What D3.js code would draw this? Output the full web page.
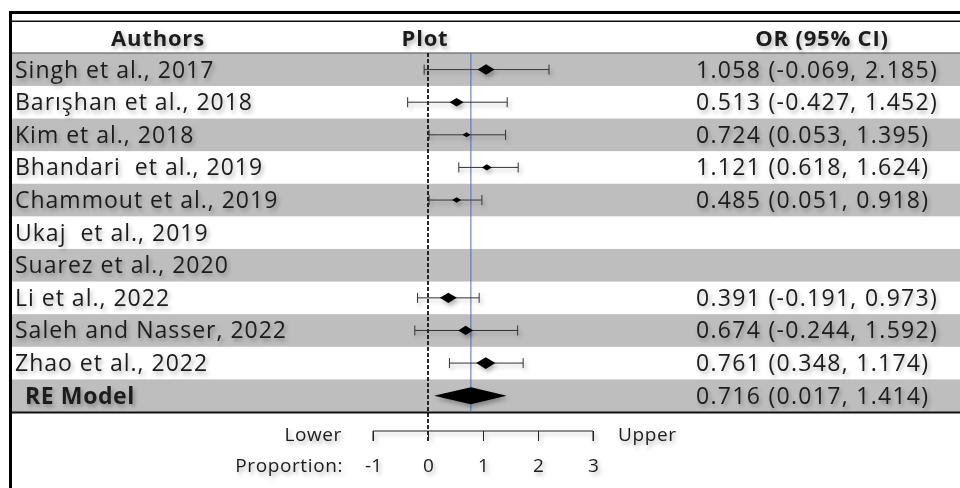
<!DOCTYPE html>
<html lang="en">
<head>
    <meta charset="UTF-8">
    <title>Forest Plot - OR (95% CI)</title>
    <script src="https://cdnjs.cloudflare.com/ajax/libs/d3/7.8.5/d3.min.js"></script>
    <style>
        body { margin: 0; background: #fff; }
        svg { display: block; }
        text { font-family: "Open Sans", Lato, sans-serif; fill: #1c1c1c; white-space: pre; }
    </style>
</head>
<body>
    <svg id="chart" width="960" height="488"></svg>
    <script>
        // study rows (last one is the pooled model)
        const authors = ["Singh et al., 2017", "Barışhan et al., 2018", "Kim et al., 2018",
            "Bhandari  et al., 2019", "Chammout et al., 2019", "Ukaj  et al., 2019",
            "Suarez et al., 2020", "Li et al., 2022", "Saleh and Nasser, 2022",
            "Zhao et al., 2022", "RE Model"];
        const orLabels = ["1.058 (-0.069, 2.185)", "0.513 (-0.427, 1.452)", "0.724 (0.053, 1.395)",
            "1.121 (0.618, 1.624)", "0.485 (0.051, 0.918)", "", "",
            "0.391 (-0.191, 0.973)", "0.674 (-0.244, 1.592)", "0.761 (0.348, 1.174)",
            "0.716 (0.017, 1.414)"];
        // plotted estimates / limits as drawn in the figure (null = no marker)
        const estimates = [1.055, 0.52, 0.70, 1.07, 0.52, null, null, 0.37, 0.685, 1.05, 0.78];
        const lower     = [-0.07, -0.37, 0.02, 0.56, 0.02, null, null, -0.19, -0.24, 0.39, 0.11];
        const upper     = [2.20, 1.44, 1.41, 1.64, 0.98, null, null, 0.93, 1.63, 1.73, 1.43];
        const weights   = [12.1, 10.0, 5.7, 7.1, 6.4, null, null, 12.1, 10.7, 13.6, null];
        const axisTicks = [-1, 0, 1, 2, 3];

        const svg = d3.select("#chart");
        const W = 960;

        const defs = svg.append("defs");
        const f = defs.append("filter").attr("id", "shadow")
            .attr("x", "-20%").attr("y", "-40%").attr("width", "140%").attr("height", "180%");
        f.append("feDropShadow").attr("dx", 2).attr("dy", 3).attr("stdDeviation", 2)
            .attr("flood-color", "#000").attr("flood-opacity", 0.3);

        const x = d3.scaleLinear().domain([-1, 3]).range([373, 593]);
        const y = d3.scaleBand().domain(d3.range(authors.length)).range([53.3, 412]).padding(0);
        const hw = d3.scaleLinear().domain([0, 13.6]).range([0, 9.5]);

        // row bands
        svg.selectAll("rect.band")
            .data(d3.range(authors.length).filter(i => i % 2 === 0))
            .enter().append("rect")
            .attr("class", "band")
            .attr("x", 12).attr("y", i => y(i))
            .attr("width", W - 12).attr("height", y.bandwidth())
            .attr("fill", "#bebebe");

        // frame lines
        svg.append("rect").attr("x", 9).attr("y", 11).attr("width", W - 9).attr("height", 3).attr("fill", "#000");
        svg.append("rect").attr("x", 12).attr("y", 20.5).attr("width", W - 12).attr("height", 1.5).attr("fill", "#111");
        svg.append("rect").attr("x", 9).attr("y", 11).attr("width", 3).attr("height", 477).attr("fill", "#000");
        svg.append("line").attr("x1", 12).attr("x2", W).attr("y1", 53).attr("y2", 53)
            .attr("stroke", "#444").attr("stroke-width", 1.2);
        svg.append("line").attr("x1", 12).attr("x2", W).attr("y1", 412.5).attr("y2", 412.5)
            .attr("stroke", "#111").attr("stroke-width", 2);

        // header
        const header = svg.append("g").attr("filter", "url(#shadow)");
        [["Authors", 158], ["Plot", 425], ["OR (95% CI)", 822]].forEach(h => {
            header.append("text").attr("x", h[1]).attr("y", 46)
                .attr("text-anchor", "middle").attr("font-size", 22).attr("font-weight", "bold")
                .attr("letter-spacing", 0.8)
                .text(h[0]);
        });

        // reference lines
        svg.append("line")
            .attr("x1", x(0)).attr("x2", x(0)).attr("y1", 53).attr("y2", 442)
            .attr("stroke", "#111").attr("stroke-width", 1.8).attr("stroke-dasharray", "4,2");
        const pooled = authors.length - 1;
        svg.append("line")
            .attr("x1", x(estimates[pooled])).attr("x2", x(estimates[pooled]))
            .attr("y1", 53).attr("y2", 412)
            .attr("stroke", "#4472c4").attr("stroke-width", 1);

        const g = svg.append("g").attr("filter", "url(#shadow)");

        // labels
        g.selectAll("text.author")
            .data(authors)
            .enter().append("text")
            .attr("class", "author")
            .attr("x", (d, i) => i === pooled ? 25 : 15)
            .attr("y", (d, i) => y(i) + y.bandwidth() / 2 + 8)
            .attr("font-size", 23)
            .attr("letter-spacing", (d, i) => i === pooled ? 0.6 : 1.0)
            .attr("font-weight", (d, i) => i === pooled ? "bold" : "normal")
            .text(d => d);

        g.selectAll("text.or")
            .data(orLabels)
            .enter().append("text")
            .attr("class", "or")
            .attr("x", 696)
            .attr("y", (d, i) => y(i) + y.bandwidth() / 2 + 8)
            .attr("font-size", 23)
            .attr("letter-spacing", 1.3)
            .text(d => d);

        // study CIs
        const studies = d3.range(pooled).filter(i => estimates[i] !== null);
        const rows = g.selectAll("g.study")
            .data(studies)
            .enter().append("g")
            .attr("class", "study")
            .attr("transform", i => `translate(0, ${y(i) + y.bandwidth() / 2})`);

        rows.append("line")
            .attr("x1", i => x(lower[i])).attr("x2", i => x(upper[i]))
            .attr("stroke", "#333").attr("stroke-width", 1);
        rows.append("line")
            .attr("x1", i => x(lower[i])).attr("x2", i => x(lower[i]))
            .attr("y1", -5).attr("y2", 5)
            .attr("stroke", "#333").attr("stroke-width", 1);
        rows.append("line")
            .attr("x1", i => x(upper[i])).attr("x2", i => x(upper[i]))
            .attr("y1", -5).attr("y2", 5)
            .attr("stroke", "#333").attr("stroke-width", 1);
        rows.append("path")
            .attr("d", i => {
                const cx = x(estimates[i]), w = hw(weights[i]), h = w * 0.62;
                return `M${cx - w},0L${cx},${-h}L${cx + w},0L${cx},${h}Z`;
            })
            .attr("fill", "#000");

        // pooled diamond
        const py = y(pooled) + y.bandwidth() / 2;
        g.append("path")
            .attr("d", `M${x(lower[pooled])},${py}L${x(estimates[pooled])},${py - 8.5}` +
                `L${x(upper[pooled])},${py}L${x(estimates[pooled])},${py + 8.5}Z`)
            .attr("fill", "#000");

        // axis
        const axisG = svg.append("g")
            .attr("transform", "translate(0, 431)")
            .attr("filter", "url(#shadow)");
        axisG.call(d3.axisBottom(x).tickValues(axisTicks).tickSize(10).tickSizeOuter(10)
            .tickFormat(d3.format("d")));
        axisG.select(".domain").attr("stroke", "#222").attr("d", `M${x(-1)},10V0H${x(3)}V10`);
        axisG.selectAll(".tick line").attr("stroke", "#222");
        axisG.selectAll(".tick text")
            .attr("font-family", "'Open Sans', sans-serif").attr("font-size", 19)
            .attr("fill", "#1c1c1c").attr("y", 0).attr("dy", 40.5)
            .text(d => d < 0 ? "-" + Math.abs(d) : d);

        const axLab = svg.append("g").attr("filter", "url(#shadow)");
        axLab.append("text").attr("x", 342).attr("y", 441).attr("text-anchor", "end")
            .attr("font-size", 19).attr("letter-spacing", 0.6).text("Lower");
        axLab.append("text").attr("x", 618).attr("y", 441).attr("font-size", 19)
            .attr("letter-spacing", 0.6).text("Upper");
        axLab.append("text").attr("x", 343).attr("y", 471.5).attr("text-anchor", "end")
            .attr("font-size", 19).attr("letter-spacing", 0.6).text("Proportion:");
    </script>
</body>
</html>
